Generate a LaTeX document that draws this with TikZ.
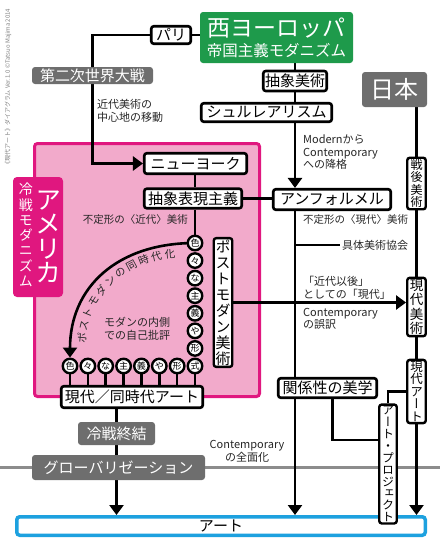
\documentclass[tikz,border=0pt]{standalone}
\usepackage{fontspec}
\setmainfont{Noto Sans CJK JP}
\newfontfamily\tatefont[RawFeature=+vert]{Noto Sans CJK JP}
\usetikzlibrary{arrows.meta,positioning}
\definecolor{eurogreen}{HTML}{1E9A4B}
\definecolor{boxgray}{HTML}{6E6E6E}
\definecolor{usapink}{HTML}{F2AACB}
\definecolor{usamagenta}{HTML}{E0177F}
\definecolor{artblue}{HTML}{1DA1DF}
\definecolor{globalgray}{HTML}{8C8C8C}
\pgfdeclarelayer{back}
\pgfdeclarelayer{wires}
\pgfsetlayers{back,wires,main}
\newcommand{\tatesize}[2]{\tatefont\fontsize{#1}{#2}\selectfont\lineskiplimit=-30pt}
\tikzset{
  stage/.style={draw=black,line width=2.6pt,rounded corners=2.5pt,fill=white,
    inner sep=0pt,font=\fontsize{15}{16}\selectfont},
  region/.style={fill=boxgray,rounded corners=3pt,text=white,inner sep=0pt,
    font=\fontsize{15}{16}\selectfont},
  tate/.style={draw=black,line width=2.4pt,rounded corners=2.5pt,fill=white,
    inner sep=1.5pt,align=center},
  bead/.style={circle,draw=black,line width=2.4pt,fill=white,minimum size=14.5pt,
    inner sep=0pt,font=\fontsize{9}{9}\selectfont},
  link/.style={line width=2.6pt},
  arrow/.style={link,-{Triangle[length=10pt,width=14pt]}},
  note/.style={inner sep=0pt,align=left,text=black!85,font=\fontsize{11}{12.5}\selectfont}
}

\begin{document}
\begin{tikzpicture}[x=1pt,y=-1pt]
  \useasboundingbox (0,0) rectangle (440,550);
  \node[rotate=90,text=gray,inner sep=0pt,font=\fontsize{6}{6}\selectfont] (credit) at (8,88)
    {《現代アート》ダイアグラム Ver.1.0 ©Tatsuo Majima 2014};
  % Europe
  \node[fill=eurogreen,rounded corners=3pt,text=white,inner sep=0pt,minimum width=153pt,
    minimum height=51pt,align=center,font=\fontsize{15.5}{20}\selectfont] (west) at (276.5,37.5)
    {{\fontsize{23}{20}\selectfont 西ヨーロッパ}\\帝国主義モダニズム};
  \node[stage,minimum width=39.5pt,minimum height=17.5pt] (paris) at (171,35) {パリ};
  \node[region,minimum width=121pt,minimum height=17pt] (ww2) at (92.5,75.5) {第二次世界大戦};
  \node[stage,minimum width=63.5pt,minimum height=20pt] (abstract) at (295,81) {抽象美術};
  \node[stage,minimum width=130.5pt,minimum height=18.5pt] (surreal) at (266.5,112.5) {シュルレアリスム};
  \node[note,anchor=west] (shift) at (97,111) {近代美術の\\中心地の移動};
  \node[note,anchor=west] (demote) at (303,152.5) {Modernから\\Contemporary\\への降格};
  % Japan
  \node[region,minimum width=65pt,minimum height=35pt,font=\fontsize{24}{24}\selectfont] (japan) at (394.5,89.5) {日本};
  \node[tate,minimum width=18.5pt,font=\tatesize{12}{12.5}] (sengo) at (416.5,183.5) {戦\\後\\美\\術};
  \node[tate,minimum width=18.5pt,font=\tatesize{13.5}{14.5}] (gendaibi) at (416.5,307) {現\\代\\美\\術};
  \node[tate,minimum width=18.5pt,font=\tatesize{12.5}{12.5}] (gendaiart) at (416.5,391.5) {現\\代\\ア\\ー\\ト};
  % America
  \begin{pgfonlayer}{back}
    \node[draw=usamagenta,line width=3pt,fill=usapink,rounded corners=3pt,
      minimum width=225pt,minimum height=253pt] (usa) at (147,270) {};
    \draw[globalgray,line width=3pt] (0,467.5) -- (440,467.5);
  \end{pgfonlayer}
  \node[fill=usamagenta,rounded corners=4pt,minimum width=50pt,minimum height=120pt] (usatag) at (38,237) {};
  \node[text=white,inner sep=0pt,align=center,font=\tatesize{26}{24.5}] (usaname) at (48,237) {ア\\メ\\リ\\カ};
  \node[text=white,inner sep=0pt,align=center,font=\tatesize{14}{15.3}] (usastyle) at (26,235) {冷\\戦\\モ\\ダ\\ニ\\ズ\\ム};
  \node[stage,minimum width=102.5pt,minimum height=20.5pt] (ny) at (195.5,163.5) {ニューヨーク};
  \node[stage,minimum width=97.5pt,minimum height=19.5pt] (abex) at (193,198.5) {抽象表現主義};
  \node[stage,minimum width=117.5pt,minimum height=20.5pt] (informel) at (332,199.5) {アンフォルメル};
  \node[note,anchor=east,font=\fontsize{10.5}{12}\selectfont] (amorphmod) at (188,220) {不定形の〈近代〉美術};
  \node[note,anchor=west,font=\fontsize{10.5}{12}\selectfont] (amorphcon) at (303,220) {不定形の〈現代〉美術};
  \coordinate (gutaiend) at (340,245);
  \node[note,right=2pt of gutaiend] (gutai) {具体美術協会};
  \node[tate,minimum width=18.5pt,font=\tatesize{15}{16}] (postmodern) at (223,302.5) {ポ\\ス\\ト\\モ\\ダ\\ン\\美\\術};
  \foreach \c [count=\i from 0] in {色,々,な,主,義,や,形}{
    \node[bead] (v\i) at (195,{243+\i*17.57}) {\c};
    \node[bead] (h\i) at ({70+\i*17.86},366) {\c};
  }
  \node[bead] (corner) at (195,366) {式};
  \foreach \c [count=\i from 0, evaluate=\i as \p using \i/10] in {ポ,ス,ト,モ,ダ,ン,の,同,時,代,化}
    \path (82,338) .. controls (86,294) and (124,258) .. (170,254)
      node[pos=\p,sloped,inner sep=0pt,text=black!85,font=\fontsize{10.5}{10.5}\selectfont] (sync\i) {\c};
  \node[note,align=center] (selfcrit) at (137,329) {モダンの内側\\での自己批評};
  \node[note,anchor=west] (postmod) at (303,288) {「近代以後」\\としての「現代」};
  \node[note,anchor=west] (mistrans) at (303,319) {Contemporary\\の誤訳};
  \node[stage,minimum width=141.5pt,minimum height=21.5pt] (contemporary) at (132,397) {現代／同時代アート};
  \node[stage,minimum width=98.5pt,minimum height=19.5pt] (relational) at (327.5,388) {関係性の美学};
  % globalisation
  \node[region,minimum width=77pt,minimum height=23pt] (coldwarend) at (116.5,433.5) {冷戦終結};
  \node[region,minimum width=173pt,minimum height=25pt] (global) at (118.5,467.5) {グローバリゼーション};
  \node[note,align=center] (spread) at (247,451.5) {Contemporary\\の全面化};
  \node[draw=artblue,line width=3.5pt,rounded corners=3pt,fill=white,minimum width=408.5pt,
    minimum height=18.5pt,inner sep=0pt,font=\fontsize{15}{16}\selectfont] (art) at (221,526) {アート};
  \node[tate,minimum width=17.5pt,font=\tatesize{12}{11.9}] (artproject) at (388,464) {ア\\ー\\ト\\・\\プ\\ロ\\ジ\\ェ\\ク\\ト};
  \coordinate (projin) at (artproject.west |- 0,440);
  % connectors
  \begin{pgfonlayer}{wires}
    \draw[link] (paris.east) -- (paris.east -| west.west);
    \draw[arrow] (paris.west) -| (ww2.center) |- (ny.west);
    \draw[link] (abstract |- west.south) -- (abstract |- surreal.north);
    \draw[arrow] (abstract |- surreal.south) -- (abstract |- informel.north);
    \draw[arrow] (abstract |- informel.south) -- (abstract |- art.north);
    \draw[link] (abstract |- gutaiend) -- (gutaiend);
    \draw[link] (v0 |- ny.south) -- (v0 |- abex.north);
    \draw[link] (v0 |- abex.south) -- (v0);
    \draw[link] (abex.east) -- (abex.east -| informel.west);
    \draw[arrow] (postmodern.east) -- (postmodern.east -| gendaibi.west);
    \draw[arrow] (sengo |- japan.south) -- (sengo |- art.north);
    \draw[link] (gendaiart.west) -| (artproject.north);
    \draw[link] ([xshift=5pt]relational.south) |- (projin);
    \draw[arrow] (coldwarend |- contemporary.south) -- (coldwarend |- art.north);
    \foreach \i in {0,...,6} \draw[link] (h\i) -- (h\i |- contemporary.north);
    \draw[link] (corner) -- (corner |- contemporary.north);
    \draw[arrow] (v0.center) .. controls (117.5,243) and (70,287) .. (h0.north);
  \end{pgfonlayer}
\end{tikzpicture}
\end{document}
